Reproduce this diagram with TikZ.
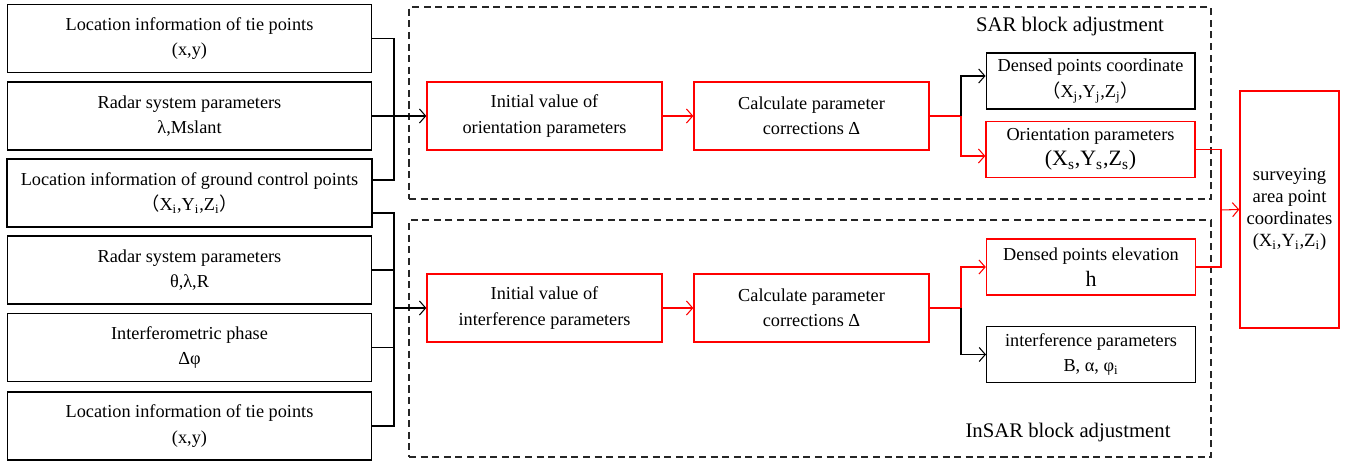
\documentclass[tikz,border=0pt]{standalone}
\usepackage{fontspec}
\setmainfont{Liberation Serif}
\newfontfamily\cjk{Noto Sans CJK SC}
\usetikzlibrary{positioning, arrows.meta}
\newcommand{\fwl}{{\cjk （}}
\newcommand{\fwr}{{\cjk ）}}
\tikzset{
  inbox/.style={
    draw,
    rectangle,
    minimum width=7.3cm,
    minimum height=1.36cm,
    align=center,
    line width=0.6pt
  },
  stepbox/.style={
    draw=red,
    rectangle,
    minimum width=4.7cm,
    minimum height=1.36cm,
    align=center,
    line width=0.8pt
  },
  outbox/.style={
    draw,
    rectangle,
    minimum width=4.18cm,
    minimum height=1.12cm,
    align=center,
    line width=0.6pt
  },
  frame/.style={
    draw=black!85,
    rectangle,
    line width=0.9pt,
    dash pattern=on 4pt off 2.6pt
  },
  wire/.style={line width=0.6pt},
  link/.style={
    line width=0.6pt,
    -{Straight Barb[length=3.5pt,width=8pt]}
  },
  rwire/.style={draw=red, line width=0.6pt},
  rlink/.style={
    draw=red,
    line width=0.6pt,
    -{Straight Barb[length=3.5pt,width=8pt]}
  }
}

\begin{document}
\begin{tikzpicture}[x=0.02cm, y=-0.02cm, font=\fontsize{10.4pt}{14.5pt}\selectfont]
    \useasboundingbox (0,0) rectangle (1348,462);

    % dashed groups
    \node[frame, minimum width=16.04cm, minimum height=3.84cm] (sar) at (810,103) {};
    \node[frame, minimum width=16.04cm, minimum height=4.74cm] (insar) at (810,338.5) {};
    \node[font=\fontsize{11.8pt}{13pt}\selectfont] (sarlab) at (1070,27) {SAR block adjustment};
    \node[font=\fontsize{11.8pt}{13pt}\selectfont] (insarlab) at (1068,433) {InSAR block adjustment};

    % input data
    \node[inbox] (b1) at (189.5,38.5) {Location information of tie points\\(x,y)};
    \node[inbox] (b2) at (189.5,116) {Radar system parameters\\λ,Mslant};
    \node[inbox, line width=0.9pt] (b3) at (189.5,193) {Location information of ground control points\\\fwl X\textsubscript{i},Y\textsubscript{i},Z\textsubscript{i}\fwr};
    \node[inbox] (b4) at (189.5,270) {Radar system parameters\\θ,λ,R};
    \node[inbox] (b5) at (189.5,347.5) {Interferometric phase\\Δφ};
    \node[inbox] (b6) at (189.5,426) {Location information of tie points\\(x,y)};

    % SAR branch
    \node[stepbox] (init1) at (544.5,116) {Initial value of\\orientation parameters};
    \node[stepbox] (calc1) at (811.5,116) {Calculate parameter\\corrections Δ};
    \node[outbox] (dens1) at (1090.5,81) {Densed points coordinate\\\fwl X\textsubscript{j},Y\textsubscript{j},Z\textsubscript{j}\fwr};
    \node[outbox, draw=red, line width=0.8pt] (orient) at (1090.5,149.5) {Orientation parameters\\{\fontsize{12.5pt}{14pt}\selectfont (X\textsubscript{s},Y\textsubscript{s},Z\textsubscript{s})}};

    % InSAR branch
    \node[stepbox] (init2) at (544.5,308) {Initial value of\\interference parameters};
    \node[stepbox] (calc2) at (811.5,308) {Calculate parameter\\corrections Δ};
    \node[outbox, draw=red, line width=0.8pt] (elev) at (1091,267) {Densed points elevation\\{\fontsize{12.5pt}{14pt}\selectfont h}};
    \node[outbox] (intf) at (1091,354.5) {interference parameters\\B, α, φ\textsubscript{i}};

    % result
    \node[draw=red, line width=0.8pt, minimum width=1.98cm, minimum height=4.74cm, align=center,
          font=\fontsize{10.6pt}{12.5pt}\selectfont] (surv) at (1289.5,209.5)
          {surveying\\area point\\coordinates\\(X\textsubscript{i},Y\textsubscript{i},Z\textsubscript{i})};

    % junctions
    \coordinate (sj) at (394,116);
    \coordinate (ij) at (394,308);
    \coordinate (sp1) at (961,116);
    \coordinate (sp2) at (961,308);
    \coordinate (mj) at (1221,210);

    \draw[wire] (b1.east) -| (sj) |- ([yshift=0.26cm]b3.east);
    \draw[link] (b2.east) -- (init1.west);
    \draw[wire] ([yshift=-0.4cm]b3.east) -| (ij) |- (b6.east);
    \draw[wire] (b4.east) -| (ij);
    \draw[wire] (b5.east) -| (ij);
    \draw[link] (ij) -- (init2.west);

    \draw[rlink] (init1) -- (calc1);
    \draw[rwire] (calc1.east) -- (sp1);
    \draw[link] (sp1) |- ([yshift=0.1cm]dens1.west);
    \draw[rlink] (sp1) |- ([yshift=-0.13cm]orient.west);

    \draw[rlink] (init2) -- (calc2);
    \draw[rwire] (calc2.east) -- (sp2);
    \draw[rlink] (sp2) |- (elev.west);
    \draw[link] (sp2) |- (intf.west);

    \draw[rwire] (orient.east) -| (mj);
    \draw[rwire] (elev.east) -| (mj);
    \draw[rlink] (mj) -- (surv.west);
\end{tikzpicture}
\end{document}
